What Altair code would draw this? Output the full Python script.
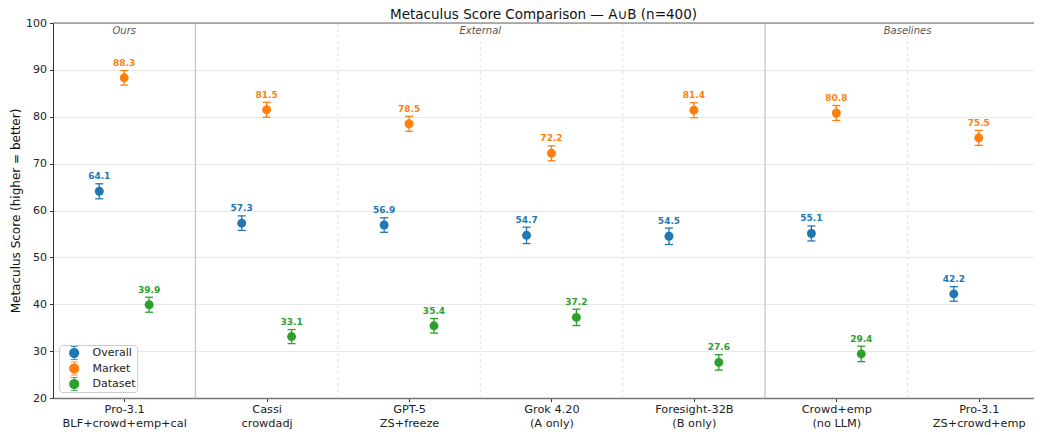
import json
import altair as alt
import pandas as pd

# ---------------- data ----------------
models = ["Pro-3.1", "Cassi", "GPT-5", "Grok 4.20", "Foresight-32B", "Crowd+emp", "Pro-3.1"]
variants = ["BLF+crowd+emp+cal", "crowdadj", "ZS+freeze", "(A only)", "(B only)", "(no LLM)", "ZS+crowd+emp"]
groups = ["Ours", "External", "External", "External", "External", "Baselines", "Baselines"]

metrics = ["Overall", "Market", "Dataset"]
colors = ["#1f77b4", "#ff7f0e", "#2ca02c"]

overall = [64.1, 57.3, 56.9, 54.7, 54.5, 55.1, 42.2]
overall_err = [1.6, 1.55, 1.55, 1.75, 1.75, 1.6, 1.55]
market = [88.3, 81.5, 78.5, 72.2, 81.4, 80.8, 75.5]
market_err = [1.55, 1.6, 1.6, 1.6, 1.6, 1.6, 1.6]
dataset = [39.9, 33.1, 35.4, 37.2, 27.6, 29.4, None]
dataset_err = [1.6, 1.5, 1.55, 1.75, 1.65, 1.65, None]

title_text = "Metaculus Score Comparison \u2014 A\u222aB (n=400)"
y_title = "Metaculus Score (higher = better)"

# ---------------- tables ----------------
series = {"Overall": (overall, overall_err), "Market": (market, market_err), "Dataset": (dataset, dataset_err)}
offset = {"Overall": -0.175, "Market": 0.0, "Dataset": 0.175}
rows = []
for i in range(len(models)):
    for m in metrics:
        vals, errs = series[m]
        v, e = vals[i], errs[i]
        if v is None:
            continue
        rows.append({"idx": i, "metric": m, "pos": i + offset[m], "value": v, "lo": v - e, "hi": v + e})
df = pd.DataFrame(rows)

seps = []
for i in range(len(models) - 1):
    seps.append({"b": i + 0.5, "solid": groups[i] != groups[i + 1]})
sep_df = pd.DataFrame(seps)

gorder = []
for g in groups:
    if g not in gorder:
        gorder.append(g)
gdf = pd.DataFrame([
    {"group": g, "center": sum(i for i, gg in enumerate(groups) if gg == g) / groups.count(g)}
    for g in gorder
])
top_df = pd.DataFrame({"t": [100]})

# ---------------- scales / axes ----------------
label_js = json.dumps([[m, v] for m, v in zip(models, variants)])
xscale = alt.Scale(domain=[-0.5, 6.388], nice=False, zero=False)
yscale = alt.Scale(domain=[20, 100], nice=False, zero=False)
xaxis = alt.Axis(title=None, values=list(range(len(models))), labelExpr=f"{label_js}[datum.value]",
                 grid=False, labelFontSize=11.3, labelLineHeight=14, labelColor="#222",
                 tickSize=3.5, tickColor="#333", domainColor="#777", domainWidth=1.5,
                 labelPadding=2, labelOverlap=False, labelFlush=False, labelBound=False)
yaxis = alt.Axis(title=y_title, values=list(range(20, 101, 10)), grid=True, gridColor="#e8e8e8",
                 gridWidth=1, labelFontSize=11, labelColor="#222", titleFontSize=12,
                 titleFontWeight="normal", titleColor="#111", tickSize=3.5, tickColor="#333",
                 domainColor="#333", labelPadding=3, titlePadding=3)
cscale = alt.Scale(domain=metrics, range=colors)

sym = ("M0.72,0A0.72,0.72 0 1 1 -0.72,0A0.72,0.72 0 1 1 0.72,0Z "
       "M-0.07,-1H0.07V1H-0.07Z M-0.5,-1H0.5V-0.88H-0.5Z M-0.5,0.88H0.5V1H-0.5Z")

legend = alt.Legend(title=None, orient="none", legendX=6.2, legendY=322, fillColor="white",
                    strokeColor="#cccccc", cornerRadius=3, padding=1, symbolType=sym,
                    symbolSize=196, symbolOffset=7, labelOffset=11.4, labelFontSize=11,
                    rowPadding=1.5, symbolStrokeWidth=0, symbolOpacity=1, labelColor="#222")


def X(field):
    return alt.X(f"{field}:Q", scale=xscale, axis=xaxis)


def Y(field):
    return alt.Y(f"{field}:Q", scale=yscale, axis=yaxis)


C = alt.Color("metric:N", scale=cscale, legend=legend)

# ---------------- layers ----------------
dashed = alt.Chart(sep_df[~sep_df["solid"]]).mark_rule(color="#e2e2e2", strokeDash=[3, 3], strokeWidth=1).encode(x=X("b"))
solid = alt.Chart(sep_df[sep_df["solid"]]).mark_rule(color="#c6c6c6", strokeWidth=1.3).encode(x=X("b"))
top = alt.Chart(top_df).mark_rule(color="#666", strokeWidth=1.2).encode(y=Y("t"))

base = alt.Chart(df)
err = base.mark_rule(strokeWidth=1.3).encode(x=X("pos"), y=Y("lo"), y2="hi:Q", color=C)
cap_lo = base.mark_tick(orient="horizontal", size=8, thickness=1.3, opacity=1).encode(x=X("pos"), y=Y("lo"), color=C)
cap_hi = base.mark_tick(orient="horizontal", size=8, thickness=1.3, opacity=1).encode(x=X("pos"), y=Y("hi"), color=C)
pts = base.mark_circle(size=80, opacity=1).encode(x=X("pos"), y=Y("value"), color=C)
lbl = base.mark_text(fontWeight="bold", fontSize=9, baseline="alphabetic", dy=-4.5).encode(
    x=X("pos"), y=Y("hi"), text=alt.Text("value:Q", format=".1f"), color=C)
gtxt = alt.Chart(gdf).mark_text(fontStyle="italic", fontSize=10, color="#555", baseline="middle").encode(
    x=X("center"), y=alt.value(8), text="group:N")

chart = alt.layer(dashed, solid, top, err, cap_lo, cap_hi, pts, lbl, gtxt).properties(
    width=981, height=375,
    title=alt.Title(title_text, fontSize=13.5, fontWeight="normal", offset=6, dy=10.5, color="#111",
                    anchor="middle", frame="group"),
    autosize=alt.AutoSizeParams(type="none"),
    padding={"left": 45, "top": 15, "right": 0, "bottom": 33},
).configure_view(stroke=None).configure(font="DejaVu Sans")

chart.save("out.html", embed_options={"renderer": "svg", "actions": False})
